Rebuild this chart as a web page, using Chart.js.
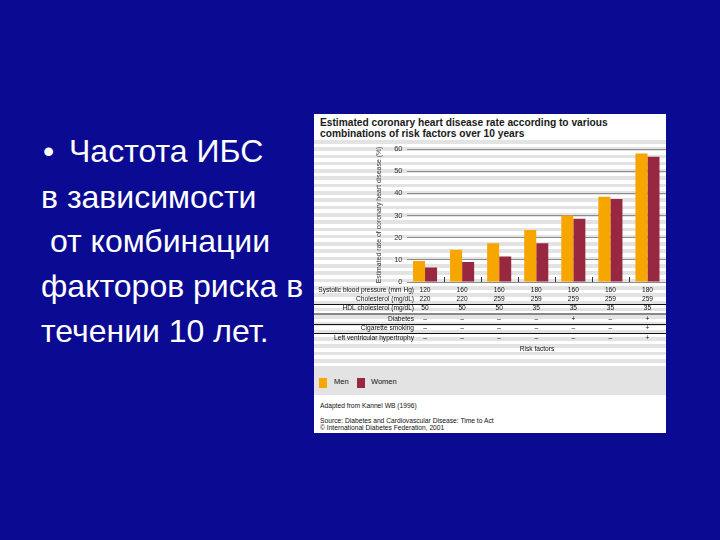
<!DOCTYPE html>
<html><head><meta charset="utf-8">
<script src="https://cdn.jsdelivr.net/npm/chart.js@4/dist/chart.umd.min.js"></script>
<style>
html,body{margin:0;padding:0;}
body{width:720px;height:540px;background:#0a0a92;position:relative;overflow:hidden;font-family:"Liberation Sans",Arial,sans-serif;}
.ln{position:absolute;white-space:pre;color:#fff;font-size:32px;line-height:32px;}
#panel{position:absolute;left:314px;top:114px;width:352px;height:319px;background:#fff;overflow:hidden;}
#stripes{position:absolute;left:0;top:26px;width:352px;height:230px;background:repeating-linear-gradient(to bottom,#e3e3e3 0px,#e3e3e3 3.6px,#ffffff 3.6px,#ffffff 7.3px);}
#title{position:absolute;left:6px;top:4px;font-weight:bold;font-size:10.2px;line-height:10.5px;color:#1a1a1a;white-space:pre;}
#legend{position:absolute;left:0;top:256px;width:352px;height:25px;background:#e3e3e3;}
.sw{position:absolute;top:8px;width:8px;height:10px;}
.lt{position:absolute;top:7px;font-size:7.5px;line-height:10px;color:#111;}
.note{position:absolute;left:6px;font-size:6.7px;line-height:7px;color:#111;white-space:pre;}
#chartbox{position:absolute;left:0;top:0;width:352px;height:319px;}
</style></head>
<body>
<div class="ln" style="left:43px;top:135px;">•</div>
<div class="ln" style="left:69px;top:135px;">Частота ИБС</div>
<div class="ln" style="left:41px;top:181px;">в зависимости</div>
<div class="ln" style="left:41px;top:225px;"> от комбинации</div>
<div class="ln" style="left:41px;top:270px;">факторов риска в</div>
<div class="ln" style="left:41px;top:315px;">течении 10 лет.</div>

<div id="panel">
  <div id="stripes"></div>
  <div id="title">Estimated coronary heart disease rate according to various
combinations of risk factors over 10 years</div>
  <div id="legend">
    <div class="sw" style="left:5px;background:#f7a600;"></div>
    <div class="lt" style="left:20px;">Men</div>
    <div class="sw" style="left:43px;background:#98283f;"></div>
    <div class="lt" style="left:57px;">Women</div>
  </div>
  <div class="note" style="top:288px;">Adapted from Kannel WB (1996)</div>
  <div class="note" style="top:303px;">Source: Diabetes and Cardiovascular Disease: Time to Act</div>
  <div class="note" style="top:310px;">© International Diabetes Federation, 2001</div>
  <div id="chartbox"><canvas id="c" width="352" height="319"></canvas></div>
</div>

<script>
// ---- data ----
const categories = ['1','2','3','4','5','6','7'];
const men   = [9.5, 14.5, 17.5, 23.5, 30, 38.5, 58];
const women = [6.5, 9, 11.5, 17.5, 28.5, 37.5, 56.5];
const yTicks = [0, 10, 20, 30, 40, 50, 60];
const rowLabels = ['Systolic blood pressure (mm Hg)','Cholesterol (mg/dL)','HDL cholesterol (mg/dL)','Diabetes','Cigarette smoking','Left ventricular hypertrophy'];
const systolic    = ['120','160','160','180','160','160','180'];
const cholesterol = ['220','220','259','259','259','259','259'];
const hdl         = ['50','50','50','35','35','35','35'];
const diabetes    = ['–','–','–','–','+','–','+'];
const smoking     = ['–','–','–','–','–','–','+'];
const lvh         = ['–','–','–','–','–','–','+'];
const seriesNames = ['Men','Women'];
const yTitle = 'Estimated rate of coronary heart disease (%)';
const xTitle = 'Risk factors';

const rows = [systolic, cholesterol, hdl, diabetes, smoking, lvh];
const rowY = [176, 185, 194.5, 205, 214.5, 224];
const lineY = [190.5, 200, 210.5, 219.5];

const extras = {
  id: 'extras',
  afterDraw(chart) {
    const ctx = chart.ctx, x = chart.scales.x, a = chart.chartArea;
    ctx.save();
    // x tick marks at category boundaries
    ctx.strokeStyle = '#333'; ctx.lineWidth = 1;
    for (let i = 1; i < categories.length; i++) {
      const px = Math.round((x.getPixelForValue(i - 1) + x.getPixelForValue(i)) / 2) + 0.5;
      ctx.beginPath(); ctx.moveTo(px, a.bottom - 5); ctx.lineTo(px, a.bottom); ctx.stroke();
    }
    // y title
    ctx.fillStyle = '#333';
    ctx.font = '6.9px "Liberation Sans", Arial, sans-serif';
    ctx.textAlign = 'center'; ctx.textBaseline = 'middle';
    ctx.save(); ctx.translate(65, 101); ctx.rotate(-Math.PI / 2); ctx.fillText(yTitle, 0, 0); ctx.restore();
    // table
    ctx.fillStyle = '#111';
    ctx.font = '6.6px "Liberation Sans", Arial, sans-serif';
    rows.forEach((r, ri) => {
      ctx.textAlign = 'right';
      ctx.fillText(rowLabels[ri], 100, rowY[ri]);
      ctx.textAlign = 'center';
      r.forEach((v, ci) => ctx.fillText(v, x.getPixelForValue(ci), rowY[ri]));
    });
    ctx.strokeStyle = '#111';
    lineY.forEach(y => { ctx.beginPath(); ctx.moveTo(0, y); ctx.lineTo(chart.width, y); ctx.stroke(); });
    ctx.textAlign = 'center';
    ctx.fillText(xTitle, 223, 235);
    ctx.restore();
  }
};

new Chart(document.getElementById('c'), {
  type: 'bar',
  data: {
    labels: categories,
    datasets: [
      { label: seriesNames[0], data: men, backgroundColor: '#f7a600' },
      { label: seriesNames[1], data: women, backgroundColor: '#98283f' }
    ]
  },
  options: {
    responsive: false,
    animation: false,
    events: [],
    layout: { padding: { left: 62.5, right: 0, top: 35, bottom: 151 } },
    datasets: { bar: { categoryPercentage: 0.65, barPercentage: 1.0 } },
    plugins: { legend: { display: false }, tooltip: { enabled: false } },
    scales: {
      x: { display: false },
      y: {
        min: 0, max: 60,
        afterFit(s) { s.width = 30; },
        afterBuildTicks(s) { s.ticks = yTicks.map(v => ({ value: v })); },
        border: { display: false },
        grid: { color: '#8c8c8c', lineWidth: 1, drawTicks: false },
        ticks: { padding: 4, color: '#333', font: { size: 7.5, family: '"Liberation Sans", Arial, sans-serif' } }
      }
    }
  },
  plugins: [extras]
});
</script>
</body></html>
